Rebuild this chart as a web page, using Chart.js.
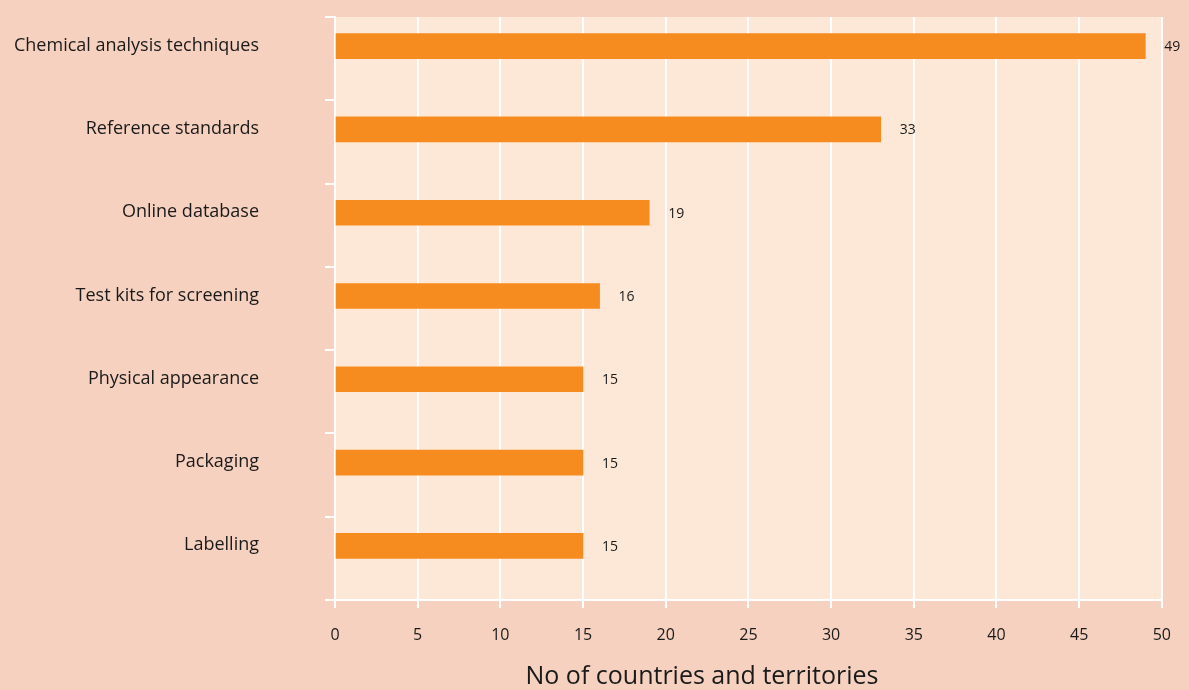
<!DOCTYPE html>
<html>
<head>
<meta charset="utf-8">
<script src="https://cdn.jsdelivr.net/npm/chart.js@4/dist/chart.umd.min.js"></script>
<style>
    html, body { margin: 0; padding: 0; background: #f6d1bf; }
    #wrap { width: 1189px; height: 690px; }
</style>
</head>
<body>
<div id="wrap"><canvas id="myChart"></canvas></div>
<script>
// data
const categories = ['Chemical analysis techniques', 'Reference standards', 'Online database',
    'Test kits for screening', 'Physical appearance', 'Packaging', 'Labelling'];
const counts = [49, 33, 19, 16, 15, 15, 15];
const xTicks = [0, 5, 10, 15, 20, 25, 30, 35, 40, 45, 50];
const axisTitle = 'No of countries and territories';

const FONT = "'Open Sans', Lato, sans-serif";

// paints outer background and the lighter plot area
const bgPlugin = {
    id: 'bg',
    beforeDraw: function(chart) {
        const ctx = chart.ctx;
        const a = chart.chartArea;
        ctx.save();
        ctx.fillStyle = '#f6d1bf';
        ctx.fillRect(0, 0, chart.width, chart.height);
        ctx.fillStyle = '#fde8d7';
        ctx.fillRect(a.left, a.top, a.right - a.left, a.bottom - a.top);
        ctx.restore();
    }
};

// value labels after each bar + the x axis title (sits left of centre in the original)
const textPlugin = {
    id: 'texts',
    afterDatasetsDraw: function(chart) {
        const ctx = chart.ctx;
        const meta = chart.getDatasetMeta(0);
        ctx.save();
        ctx.font = '14px ' + FONT;
        ctx.fillStyle = '#1a1a1a';
        ctx.textAlign = 'left';
        ctx.textBaseline = 'middle';
        meta.data.forEach(function(bar, i) {
            ctx.fillText(counts[i], bar.x + 19, bar.y + 1);
        });

        ctx.font = '25px ' + FONT;
        ctx.textAlign = 'center';
        ctx.fillText(axisTitle, chart.chartArea.left + 367, 677);
        ctx.restore();
    }
};

const config = {
    type: 'bar',
    data: {
        labels: categories,
        datasets: [{
            data: counts,
            backgroundColor: '#f68b1f',
            borderWidth: 0,
            barThickness: 25
        }, {
            // empty partner series: the original bars sit above the category centre
            data: categories.map(function() { return null; }),
            backgroundColor: 'rgba(0,0,0,0)',
            borderWidth: 0,
            barThickness: 23
        }]
    },
    options: {
        indexAxis: 'y',
        responsive: true,
        maintainAspectRatio: false,
        animation: false,
        layout: {
            padding: { left: 0, right: 22, top: 17, bottom: 0 }
        },
        plugins: {
            legend: { display: false },
            tooltip: { enabled: false }
        },
        scales: {
            x: {
                min: 0,
                max: 50,
                afterBuildTicks: function(scale) {
                    scale.ticks = xTicks.map(function(v) { return { value: v }; });
                },
                afterFit: function(scale) {
                    scale.height = 90;
                },
                grid: {
                    color: '#ffffff',
                    lineWidth: 2,
                    tickLength: 8
                },
                border: { color: '#ffffff', width: 2 },
                ticks: {
                    color: '#1a1a1a',
                    padding: 18,
                    font: { family: FONT, size: 16 }
                }
            },
            y: {
                afterFit: function(scale) {
                    scale.width = 335;
                    scale.paddingTop = 0;
                    scale.paddingBottom = 0;
                },
                grid: {
                    offset: true,
                    drawOnChartArea: false,
                    color: '#ffffff',
                    lineWidth: 2,
                    tickLength: 10
                },
                border: { color: '#ffffff', width: 2 },
                ticks: {
                    color: '#1a1a1a',
                    padding: 66,
                    labelOffset: -13,
                    font: { family: FONT, size: 18 }
                }
            }
        }
    },
    plugins: [bgPlugin, textPlugin]
};

var myChart = new Chart(document.getElementById('myChart'), config);
</script>
</body>
</html>
